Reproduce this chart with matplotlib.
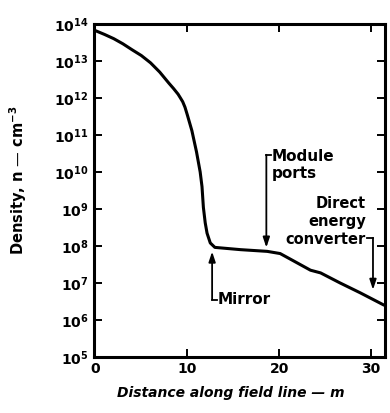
import numpy as np
import matplotlib
matplotlib.use("Agg")
import matplotlib.pyplot as plt
from matplotlib.ticker import NullLocator, FixedLocator

plt.rcParams['font.family'] = ['DejaVu Sans']
plt.rcParams['font.weight'] = 'bold'
plt.rcParams['mathtext.default'] = 'bf'

# Density along the field line
distance = [0.0, 1.0, 2.0, 3.0, 4.0, 5.0, 6.0, 7.0, 8.0, 8.5, 9.0, 9.25, 9.5,
            9.75, 10.0, 10.5, 11.0, 11.4, 11.6, 11.75, 11.95, 12.15, 12.5,
            13.0, 15.8, 18.7, 20.1, 21.5, 23.4, 24.5, 26.6, 28.8, 31.4]
density = [6.6e13, 5.2e13, 4.0e13, 2.9e13, 2.0e13, 1.4e13, 8.9e12, 5.0e12,
           2.5e12, 1.8e12, 1.26e12, 1.0e12, 7.9e11, 5.6e11, 3.5e11, 1.3e11,
           3.5e10, 1.0e10, 4.0e9, 1.1e9, 4.2e8, 2.2e8, 1.2e8, 9.1e7, 7.9e7,
           7.1e7, 6.2e7, 4.0e7, 2.2e7, 1.86e7, 1.0e7, 5.4e6, 2.5e6]

xticks = [0, 10, 20, 30]
yticks = [1e5, 1e6, 1e7, 1e8, 1e9, 1e10, 1e11, 1e12, 1e13, 1e14]
ytick_labels = [r'$10^{5}$', r'$10^{6}$', r'$10^{7}$', r'$10^{8}$', r'$10^{9}$',
                r'$10^{10}$', r'$10^{11}$', r'$10^{12}$', r'$10^{13}$', r'$10^{14}$']

fig = plt.figure(figsize=(3.9, 4.13), dpi=100)
ax = fig.add_axes([0.241, 0.136, 0.746, 0.806])

ax.plot(distance, density, color='black', lw=2.2, solid_capstyle='round',
        solid_joinstyle='round')

ax.set_yscale('log')
ax.set_xlim(-0.15, 31.5)
ax.set_ylim(1e5, 1e14)

ax.xaxis.set_major_locator(FixedLocator(xticks))
ax.set_xticklabels([str(t) for t in xticks], fontsize=10, fontweight='bold')
ax.yaxis.set_major_locator(FixedLocator(yticks))
ax.set_yticklabels(ytick_labels, fontsize=10)
ax.yaxis.set_minor_locator(NullLocator())
ax.xaxis.set_minor_locator(NullLocator())
ax.tick_params(direction='in', length=6, width=1.4, top=True, right=True, pad=4)

for s in ax.spines.values():
    s.set_linewidth(2.2)

ax.set_xlabel('Distance along field line — m', fontsize=10, fontstyle='italic',
              fontweight='bold')
ax.xaxis.set_label_coords(0.47, -0.088)
ax.set_ylabel(r'Density, n — cm$^{-3}$', fontsize=10.5, fontweight='bold')
ax.yaxis.set_label_coords(-0.225, 0.53)

arrow = dict(arrowstyle='-|>,head_length=0.6,head_width=0.2', color='black', lw=1.3,
             shrinkA=0, shrinkB=0)

# Mirror
ax.annotate('', xy=(12.7, 7.0e7), xytext=(12.7, 3.5e6), arrowprops=arrow)
ax.plot([12.7, 13.2], [3.5e6, 3.5e6], color='black', lw=1.3)
ax.text(13.3, 3.5e6, 'Mirror', fontsize=11, va='center', ha='left')

# Module ports
ax.annotate('', xy=(18.6, 9.0e7), xytext=(18.6, 2.9e10), arrowprops=arrow)
ax.plot([18.6, 19.1], [2.9e10, 2.9e10], color='black', lw=1.3)
ax.text(19.2, 4.2e10, 'Module\nports', fontsize=11, va='top', ha='left',
        linespacing=1.15)

# Direct energy converter
ax.annotate('', xy=(30.2, 6.5e6), xytext=(30.2, 1.65e8), arrowprops=arrow)
ax.plot([29.5, 30.2], [1.65e8, 1.65e8], color='black', lw=1.3)
ax.text(29.4, 1.1e8, 'Direct\nenergy\nconverter', fontsize=10.5, va='baseline',
        ha='right', multialignment='right', linespacing=1.25)

fig.savefig('out.png', dpi=100)
